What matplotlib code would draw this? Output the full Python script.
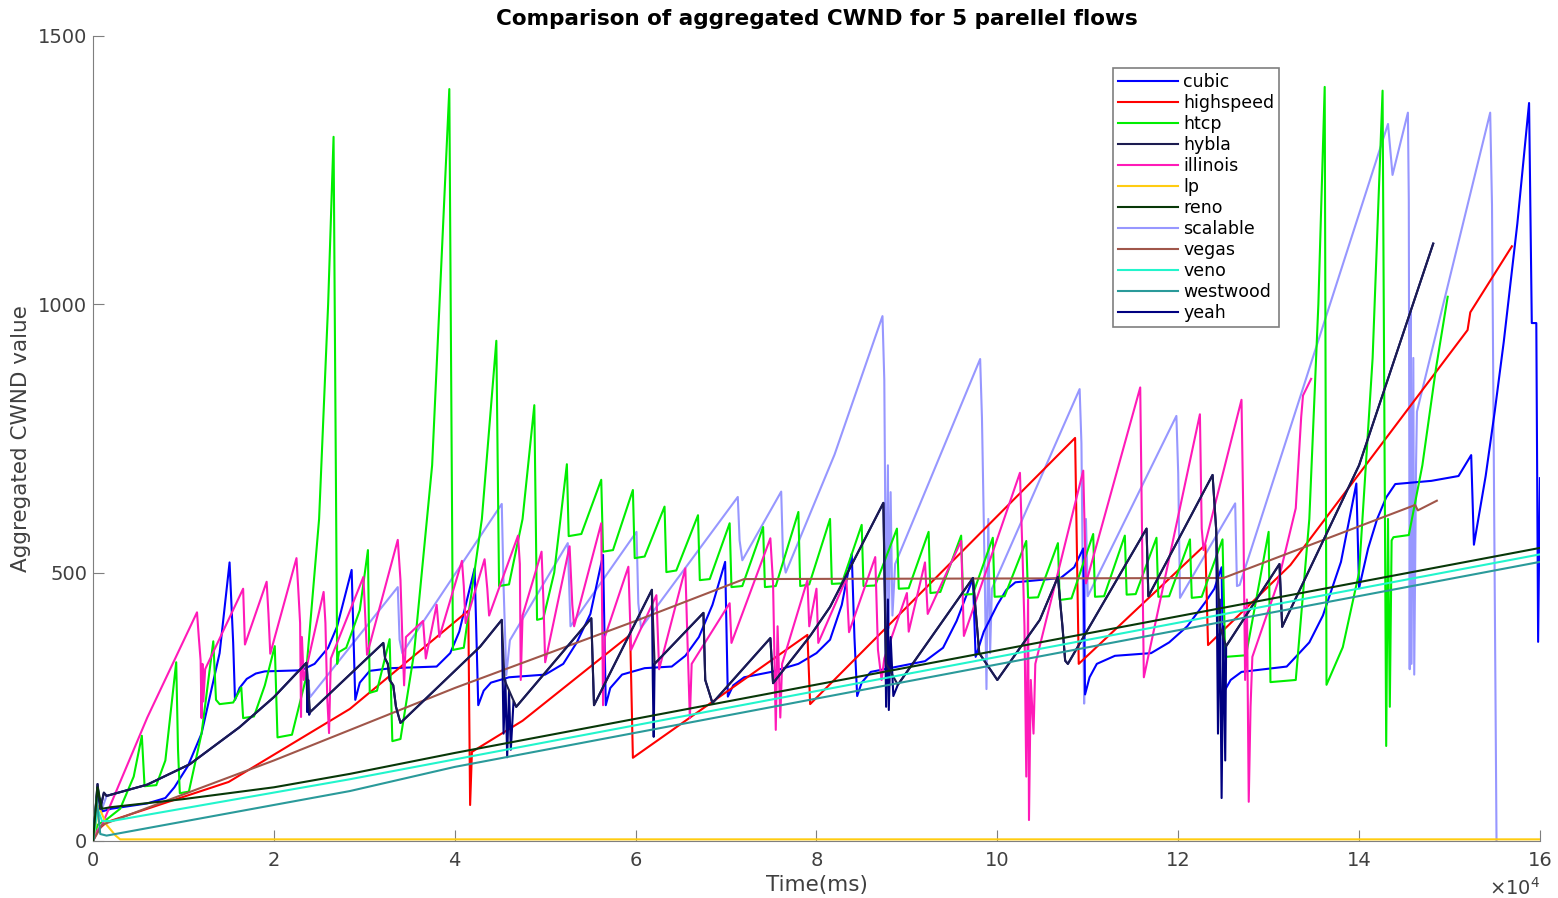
import numpy as np
import matplotlib.pyplot as plt
from matplotlib.ticker import FuncFormatter

# values: (time in 1e4 ms, aggregated cwnd)
cubic = np.array([
    (0, 0), (0.05, 90), (0.1, 55), (0.2, 60), (0.6, 70), (0.8, 80), (0.9, 100), (1.05, 140),
    (1.2, 200), (1.4, 350), (1.51, 519), (1.55, 369), (1.57, 263), (1.62, 285), (1.7, 302),
    (1.8, 312), (1.9, 316), (2.3, 318), (2.45, 330), (2.6, 360), (2.7, 400), (2.86, 505),
    (2.9, 263), (2.95, 295), (3.06, 317), (3.3, 322), (3.8, 325), (3.95, 350), (4.05, 390),
    (4.22, 508), (4.26, 253), (4.32, 280), (4.4, 295), (4.6, 305), (5.0, 310), (5.2, 330),
    (5.35, 370), (5.5, 423), (5.64, 533), (5.67, 253), (5.72, 285), (5.85, 310),
    (6.1, 322), (6.4, 325), (6.55, 345), (6.7, 380), (6.85, 440), (6.99, 520), (7.02, 269),
    (7.08, 290), (7.2, 305), (7.5, 315), (7.8, 330), (8.0, 350), (8.15, 375), (8.28, 440),
    (8.39, 535), (8.42, 379), (8.45, 270), (8.5, 295), (8.6, 315), (8.9, 325), (9.2, 335),
    (9.4, 360), (9.55, 410), (9.73, 489), (9.76, 343), (9.85, 390), (10.0, 440),
    (10.1, 468), (10.2, 482), (10.7, 490), (10.85, 510), (10.95, 545), (10.97, 273),
    (11.02, 305), (11.1, 330), (11.3, 345), (11.7, 350), (11.9, 370), (12.1, 400),
    (12.3, 445), (12.4, 470), (12.48, 510), (12.5, 276), (12.58, 300), (12.7, 315),
    (13.2, 325), (13.45, 370), (13.6, 420), (13.8, 520), (13.97, 666), (14.0, 471),
    (14.1, 545), (14.2, 600), (14.3, 640), (14.4, 665), (14.8, 671), (15.1, 680),
    (15.24, 719), (15.27, 552), (15.4, 680), (15.5, 800), (15.6, 930), (15.75, 1150),
    (15.88, 1375), (15.91, 965), (15.96, 965), (15.98, 371), (16.0, 676)])

highspeed = np.array([
    (0, 0), (0.05, 20), (0.15, 35), (1.5, 110), (2.84, 246), (4.15, 429), (4.17, 67),
    (4.19, 166), (4.75, 224), (5.94, 384), (5.97, 155), (7.9, 384), (7.93, 255),
    (10.86, 751), (10.9, 330), (12.3, 552), (12.33, 365), (13.24, 514), (15.2, 952),
    (15.23, 985), (15.69, 1108)])

htcp = np.array([
    (0, 0), (0.05, 30), (0.15, 40), (0.3, 60), (0.45, 120), (0.54, 196), (0.57, 102),
    (0.7, 104), (0.8, 150), (0.92, 333), (0.94, 170), (0.96, 89), (1.06, 92), (1.2, 200),
    (1.33, 372), (1.36, 263), (1.4, 255), (1.55, 258), (1.64, 286), (1.66, 229),
    (1.78, 232), (1.9, 290), (2.01, 363), (2.04, 193), (2.2, 198), (2.35, 300), (2.5, 600),
    (2.6, 1000), (2.66, 1312), (2.7, 330), (2.72, 352), (2.8, 360), (2.95, 430),
    (3.04, 542), (3.06, 276), (3.14, 280), (3.28, 376), (3.31, 186), (3.4, 190),
    (3.55, 350), (3.75, 700), (3.94, 1401), (3.98, 356), (4.1, 360), (4.3, 600),
    (4.46, 932), (4.49, 475), (4.6, 478), (4.75, 600), (4.88, 812), (4.91, 412),
    (4.98, 415), (5.1, 500), (5.24, 702), (5.26, 568), (5.4, 572), (5.62, 673),
    (5.64, 539), (5.75, 542), (5.97, 654), (5.99, 527), (6.1, 530), (6.32, 623),
    (6.34, 501), (6.45, 504), (6.69, 607), (6.71, 486), (6.82, 488), (7.04, 592),
    (7.06, 473), (7.18, 475), (7.41, 585), (7.43, 473), (7.55, 475), (7.8, 613),
    (7.82, 475), (7.92, 478), (8.15, 600), (8.17, 479), (8.28, 480), (8.5, 589),
    (8.52, 475), (8.65, 476), (8.89, 582), (8.91, 470), (9.02, 471), (9.24, 576),
    (9.26, 462), (9.37, 464), (9.6, 569), (9.62, 459), (9.73, 460), (9.95, 565),
    (9.97, 455), (10.08, 456), (10.32, 559), (10.34, 453), (10.45, 454), (10.67, 555),
    (10.69, 449), (10.82, 452), (11.06, 572), (11.08, 455), (11.18, 456), (11.41, 569),
    (11.43, 459), (11.53, 460), (11.76, 565), (11.78, 455), (11.9, 456), (12.13, 562),
    (12.15, 453), (12.26, 455), (12.49, 562), (12.52, 343), (12.75, 346), (13.0, 576),
    (13.02, 296), (13.3, 300), (13.45, 600), (13.55, 1000), (13.62, 1405), (13.64, 291),
    (13.82, 361), (14.0, 500), (14.15, 900), (14.26, 1398), (14.3, 177), (14.32, 600),
    (14.34, 250), (14.36, 560), (14.38, 566), (14.55, 570), (14.7, 700), (14.85, 880),
    (14.98, 1014)])

hybla = np.array([
    (0, 0), (0.05, 106), (0.08, 60), (0.12, 90), (0.15, 84), (0.6, 105), (1.07, 143),
    (1.62, 212), (2.0, 268), (2.36, 332), (2.4, 240), (3.21, 369), (3.23, 340),
    (3.26, 330), (3.28, 300), (3.32, 290), (3.35, 250), (3.4, 220), (4.28, 362),
    (4.52, 412), (4.55, 300), (4.68, 250), (5.51, 415), (5.54, 253), (6.18, 468),
    (6.21, 330), (6.75, 425), (6.77, 300), (6.85, 257), (7.49, 378), (7.52, 294),
    (7.93, 382), (8.15, 436), (8.74, 630), (8.77, 330), (8.9, 291), (9.73, 490),
    (9.75, 450), (9.8, 350), (10.0, 300), (10.47, 412), (10.67, 492), (10.7, 436),
    (10.72, 400), (10.75, 336), (10.78, 330), (11.65, 582), (11.67, 456), (12.38, 682),
    (12.42, 580), (12.46, 400), (12.53, 363), (13.12, 516), (13.15, 399), (14.0, 700),
    (14.82, 1113)])

illinois = np.array([
    (0, 0), (0.05, 20), (0.1, 30), (0.6, 230), (1.15, 426), (1.17, 379), (1.19, 336),
    (1.2, 229), (1.21, 330), (1.22, 260), (1.24, 320), (1.66, 470), (1.68, 366),
    (1.92, 483), (1.94, 423), (1.96, 349), (2.25, 527), (2.27, 468), (2.29, 406),
    (2.3, 231), (2.31, 380), (2.33, 300), (2.55, 464), (2.57, 406), (2.59, 268),
    (2.61, 201), (2.63, 340), (2.99, 492), (3.01, 420), (3.03, 347), (3.37, 561),
    (3.4, 486), (3.42, 380), (3.44, 290), (3.46, 380), (3.65, 410), (3.68, 340),
    (3.8, 440), (3.83, 380), (4.08, 522), (4.1, 475), (4.12, 406), (4.33, 525),
    (4.36, 470), (4.38, 420), (4.7, 569), (4.72, 516), (4.73, 300), (4.75, 420),
    (4.96, 539), (4.98, 450), (5.0, 333), (5.27, 549), (5.3, 440), (5.32, 400),
    (5.62, 592), (5.64, 253), (5.66, 380), (5.92, 511), (5.95, 356), (6.23, 458),
    (6.26, 320), (6.55, 508), (6.57, 393), (6.6, 229), (6.62, 330), (7.04, 443),
    (7.06, 369), (7.49, 564), (7.52, 480), (7.55, 207), (7.57, 400), (7.6, 230),
    (7.62, 330), (7.9, 486), (7.92, 400), (8.0, 470), (8.02, 369), (8.33, 489),
    (8.36, 389), (8.65, 529), (8.68, 356), (8.72, 300), (8.75, 340), (9.0, 462),
    (9.02, 390), (9.2, 519), (9.23, 423), (9.6, 559), (9.63, 382), (10.25, 686),
    (10.28, 525), (10.3, 400), (10.32, 120), (10.34, 450), (10.35, 39), (10.37, 300),
    (10.4, 200), (10.42, 330), (10.95, 690), (10.98, 480), (11.58, 845), (11.62, 305),
    (12.24, 795), (12.26, 582), (12.28, 542), (12.7, 822), (12.72, 609), (12.74, 300),
    (12.76, 450), (12.78, 73), (12.8, 250), (12.82, 343), (13.1, 480), (13.3, 620),
    (13.36, 790), (13.38, 830), (13.47, 861)])

lp = np.array([(0, 0), (0.03, 30), (0.06, 65), (0.1, 50), (0.15, 30), (0.25, 10),
               (0.3, 3), (16.0, 3)])

reno = np.array([(0, 0), (0.05, 100), (0.1, 60), (0.2, 63), (1.0, 78), (2.0, 100),
                 (2.84, 125), (4.0, 164), (16.0, 546)])

scalable = np.array([
    (0, 0), (0.05, 90), (0.1, 60), (0.15, 84), (0.6, 105), (1.07, 143), (1.62, 212),
    (2.0, 268), (2.36, 332), (2.4, 268), (3.37, 473), (3.39, 375), (3.42, 350),
    (4.52, 628), (4.54, 475), (4.57, 309), (4.61, 374), (5.25, 555), (5.28, 400),
    (6.01, 576), (6.03, 443), (6.06, 397), (7.13, 641), (7.15, 560), (7.18, 523),
    (7.61, 651), (7.63, 529), (7.66, 500), (8.2, 720), (8.73, 978), (8.75, 859),
    (8.77, 400), (8.79, 700), (8.8, 397), (8.82, 650), (8.84, 420), (8.87, 516),
    (9.81, 898), (9.83, 788), (9.86, 500), (9.88, 283), (9.9, 600), (9.92, 350),
    (9.94, 470), (10.91, 842), (10.93, 741), (10.95, 400), (10.96, 256), (10.98, 600),
    (11.0, 456), (11.98, 792), (12.0, 686), (12.02, 453), (12.63, 629), (12.65, 475),
    (12.68, 477), (14.32, 1336), (14.37, 1241), (14.54, 1357), (14.55, 1194),
    (14.56, 320), (14.57, 990), (14.58, 330), (14.6, 900), (14.61, 310), (14.63, 700),
    (14.64, 800), (15.45, 1357), (15.47, 1185), (15.52, 0)])

vegas = np.array([(0, 0), (0.1, 30), (2.0, 150), (4.0, 285), (6.0, 410), (7.2, 488),
                  (12.5, 490), (14.62, 626), (14.65, 616), (14.86, 634)])

veno = np.array([(0, 0), (0.05, 60), (0.1, 37), (0.2, 37), (2.84, 115), (4.0, 152),
                 (16.0, 534)])

westwood = np.array([(0, 0), (0.04, 80), (0.08, 13), (0.15, 10), (2.84, 93),
                     (4.0, 138), (16.0, 520)])

yeah = np.array([
    (0, 0), (0.05, 106), (0.08, 60), (0.12, 90), (0.15, 84), (0.6, 105), (1.07, 143),
    (1.62, 212), (2.0, 268), (2.36, 332), (2.37, 240), (2.38, 300), (2.39, 235),
    (2.4, 240), (3.21, 369), (3.23, 340), (3.26, 330), (3.28, 300), (3.32, 290),
    (3.35, 250), (3.4, 220), (4.28, 362), (4.52, 412), (4.54, 200), (4.56, 300),
    (4.58, 156), (4.6, 280), (4.62, 170), (4.65, 260), (4.68, 250), (5.51, 415),
    (5.54, 253), (6.18, 468), (6.19, 300), (6.2, 194), (6.21, 330), (6.75, 425),
    (6.77, 300), (6.85, 257), (7.49, 378), (7.52, 294), (7.93, 382), (8.15, 436),
    (8.74, 630), (8.76, 400), (8.77, 250), (8.79, 450), (8.8, 244), (8.82, 380),
    (8.85, 270), (8.9, 291), (9.73, 490), (9.75, 450), (9.8, 350), (10.0, 300),
    (10.47, 412), (10.67, 492), (10.7, 436), (10.72, 400), (10.75, 336), (10.78, 330),
    (11.65, 582), (11.67, 456), (12.38, 682), (12.42, 580), (12.44, 200), (12.46, 450),
    (12.48, 80), (12.5, 400), (12.52, 150), (12.53, 363), (13.12, 516), (13.15, 399),
    (14.0, 700), (14.82, 1113)])

names = ['cubic', 'highspeed', 'htcp', 'hybla', 'illinois', 'lp', 'reno', 'scalable',
         'vegas', 'veno', 'westwood', 'yeah']
colors = ['#0000ff', '#ff0000', '#00ee00', '#1c1c50', '#ff1ab8', '#ffcc11', '#083808',
          '#9797ff', '#a0564a', '#22f5cc', '#2a9a9a', '#000080']
series = [cubic, highspeed, htcp, hybla, illinois, lp, reno, scalable, vegas, veno,
          westwood, yeah]
zorders = [3, 3, 3, 4, 3, 3, 5, 2, 3, 4, 4, 3]

fig = plt.figure(figsize=(15.58, 8.98), dpi=100)
ax = fig.add_axes([0.0597, 0.0635, 0.9287, 0.8965])

for name, c, s, z in zip(names, colors, series, zorders):
    ax.plot(s[:, 0] * 1e4, s[:, 1], color=c, lw=1.5, label=name, zorder=z)

ax.set_xlim(0, 160000)
ax.set_ylim(0, 1500)
ax.set_xticks(np.arange(0, 160001, 20000))
ax.set_yticks([0, 500, 1000, 1500])
ax.xaxis.set_major_formatter(FuncFormatter(lambda v, p: '%g' % (v / 1e4)))
ax.text(1.0, -0.058, r'$\times10^{4}$', transform=ax.transAxes, ha='right',
        va='center', fontsize=14, color='#404040')

for sp in ['top', 'right']:
    ax.spines[sp].set_visible(False)
for sp in ['left', 'bottom']:
    ax.spines[sp].set_color('#7f7f7f')
ax.tick_params(direction='in', length=8, colors='#7f7f7f', labelcolor='#404040',
               labelsize=14)
ax.tick_params(axis='x', pad=7)
ax.tick_params(axis='y', pad=4)

ax.set_xlabel('Time(ms)', fontsize=15.5, color='#404040', labelpad=4)
ax.set_ylabel('Aggregated CWND value', fontsize=15.5, color='#404040', labelpad=5)
ax.set_title('Comparison of aggregated CWND for 5 parellel flows', fontsize=15.5,
             fontweight='bold', pad=8)

leg = ax.legend(loc='upper right', bbox_to_anchor=(0.82, 0.96), fontsize=12.5,
                fancybox=False, edgecolor='#7f7f7f', framealpha=1, handlelength=3.45,
                handletextpad=0.3, labelspacing=0.17, borderpad=0.3, borderaxespad=0)
leg.get_frame().set_linewidth(1.2)

fig.savefig('out.png', dpi=100)
